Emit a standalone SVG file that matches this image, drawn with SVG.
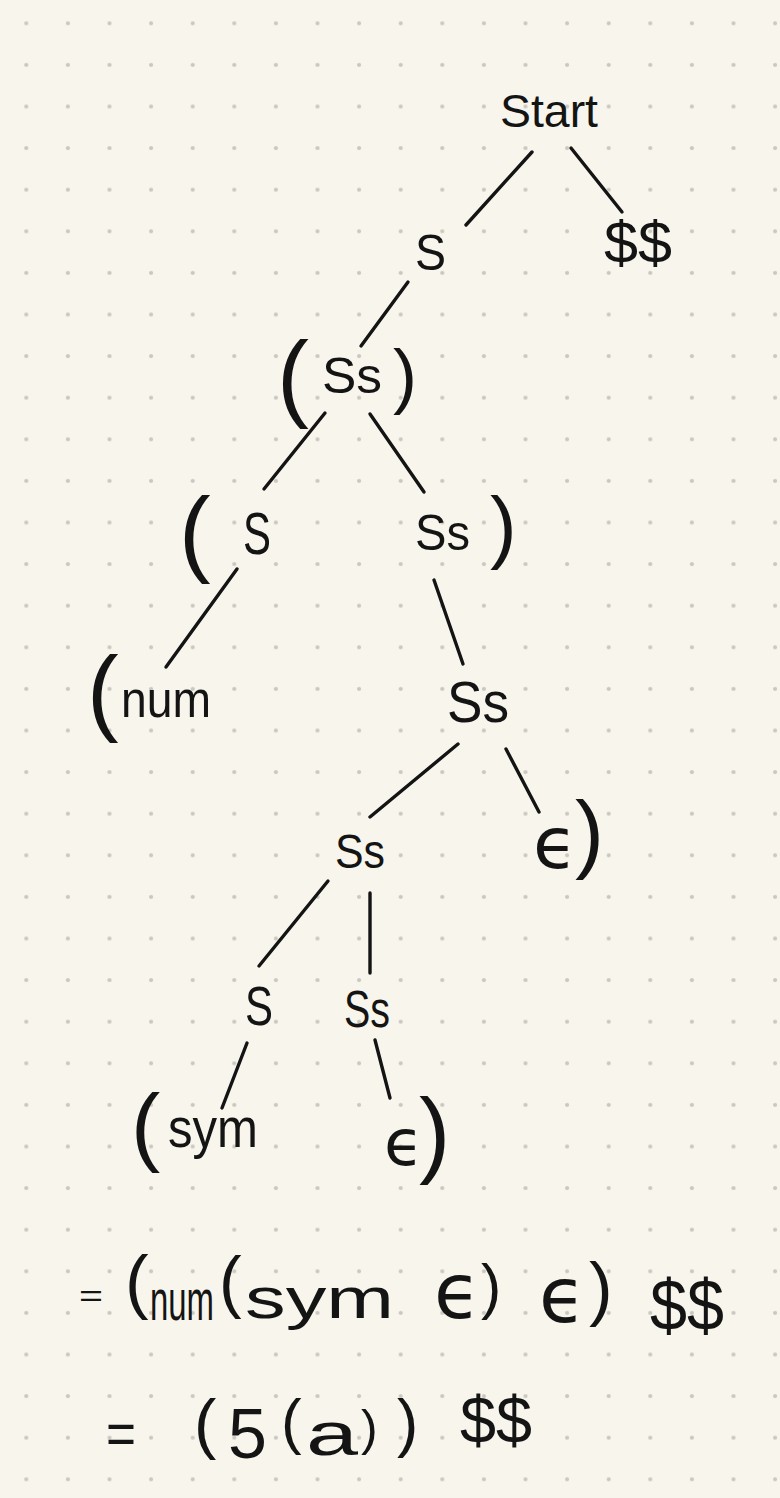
<svg xmlns="http://www.w3.org/2000/svg" width="780" height="1498" viewBox="0 0 780 1498">
<defs>
<pattern id="dots" patternUnits="userSpaceOnUse" x="5.5" y="2.5" width="41.6" height="41.6">
<circle cx="20.8" cy="20.8" r="2.1" fill="#c9c7c0"/>
</pattern>
<style>
.t{font-family:"Liberation Sans","DejaVu Sans",sans-serif;fill:#141414;}
.e{font-family:"DejaVu Sans","Liberation Sans",sans-serif;}
.edge{stroke:#141414;stroke-width:3.4;stroke-linecap:round;fill:none;}
</style>
</defs>
<rect width="780" height="1498" fill="#f7f5ec"/>
<rect width="780" height="1498" fill="url(#dots)"/>

<g id="connectors">
<line class="edge" x1="532" y1="152" x2="466" y2="225"/>
<line class="edge" x1="571" y1="148" x2="622" y2="212"/>
<line class="edge" x1="408" y1="282" x2="361" y2="346"/>
<line class="edge" x1="325" y1="413" x2="264" y2="489"/>
<line class="edge" x1="370" y1="414" x2="424" y2="492"/>
<line class="edge" x1="237" y1="569" x2="166" y2="667"/>
<line class="edge" x1="434" y1="580" x2="463" y2="664"/>
<line class="edge" x1="458" y1="744" x2="370" y2="817"/>
<line class="edge" x1="506" y1="749" x2="539" y2="812"/>
<line class="edge" x1="328" y1="881" x2="259" y2="966"/>
<line class="edge" x1="370" y1="893" x2="370" y2="973"/>
<line class="edge" x1="247" y1="1043" x2="222" y2="1108"/>
<line class="edge" x1="375" y1="1040" x2="390" y2="1098"/>
</g>

<g id="node-start"><text class="t" x="500" y="127" font-size="46" textLength="98" lengthAdjust="spacingAndGlyphs">Start</text></g>
<g id="node-S1"><text class="t" x="415" y="270" font-size="50" textLength="31" lengthAdjust="spacingAndGlyphs">S</text></g>
<g id="node-dollar"><text class="t" x="604" y="263" font-size="60" textLength="68" lengthAdjust="spacingAndGlyphs">$$</text></g>
<g id="node-paren-Ss"><text class="t"><tspan x="277" y="409" font-size="96">(</tspan><tspan x="322" y="393" font-size="50" textLength="60" lengthAdjust="spacingAndGlyphs">Ss</tspan><tspan x="393" y="400" font-size="72">)</tspan></text></g>
<g id="node-paren-S"><text class="t"><tspan x="179" y="564" font-size="95">(</tspan><tspan x="243" y="554" font-size="60" textLength="28" lengthAdjust="spacingAndGlyphs">S</tspan></text></g>
<g id="node-Ss-paren"><text class="t"><tspan x="415" y="550" font-size="50" textLength="55" lengthAdjust="spacingAndGlyphs">Ss</tspan><tspan x="490" y="553" font-size="80">)</tspan></text></g>
<g id="node-num"><text class="t"><tspan x="87" y="723" font-size="95">(</tspan><tspan x="121" y="717" font-size="52" textLength="90" lengthAdjust="spacingAndGlyphs">num</tspan></text></g>
<g id="node-Ss-mid"><text class="t" x="447" y="722" font-size="58" textLength="62" lengthAdjust="spacingAndGlyphs">Ss</text></g>
<g id="node-Ss-low"><text class="t" x="335" y="868" font-size="48" textLength="50" lengthAdjust="spacingAndGlyphs">Ss</text></g>
<g id="node-eps1"><text class="t"><tspan class="e" x="533" y="868" font-size="72">ϵ</tspan><tspan x="575" y="862" font-size="87">)</tspan></text></g>
<g id="node-S2"><text class="t" x="245" y="1025" font-size="56" textLength="28" lengthAdjust="spacingAndGlyphs">S</text></g>
<g id="node-Ss-last"><text class="t" x="344" y="1027" font-size="52" textLength="46" lengthAdjust="spacingAndGlyphs">Ss</text></g>
<g id="node-sym"><text class="t"><tspan x="131" y="1155" font-size="88">(</tspan><tspan x="168" y="1147" font-size="56" textLength="90" lengthAdjust="spacingAndGlyphs">sym</tspan></text></g>
<g id="node-eps2"><text class="t"><tspan class="e" x="384" y="1165" font-size="64">ϵ</tspan><tspan x="419" y="1165" font-size="94">)</tspan></text></g>

<g id="result-1"><text class="t"><tspan x="79" y="1306" font-size="30" textLength="24" lengthAdjust="spacingAndGlyphs">=</tspan><tspan x="125" y="1305" font-size="71">(</tspan><tspan x="150" y="1320" font-size="58" textLength="64" lengthAdjust="spacingAndGlyphs">num</tspan><tspan x="219" y="1305" font-size="68">(</tspan><tspan x="245" y="1318" font-size="58" textLength="149" lengthAdjust="spacingAndGlyphs">sym</tspan> <tspan class="e" x="434" y="1318" font-size="76">ϵ</tspan><tspan x="481" y="1307" font-size="61">)</tspan> <tspan class="e" x="539" y="1322" font-size="76">ϵ</tspan><tspan x="589" y="1312" font-size="71">)</tspan> <tspan x="650" y="1330" font-size="72" textLength="74" lengthAdjust="spacingAndGlyphs">$$</tspan></text></g>

<g id="result-2"><text class="t"><tspan x="106" y="1454" font-size="60" textLength="30" lengthAdjust="spacingAndGlyphs">=</tspan> <tspan x="194" y="1446" font-size="67">(</tspan><tspan x="228" y="1458" font-size="70">5</tspan><tspan x="281" y="1442" font-size="62">(</tspan><tspan x="306" y="1455" font-size="62" textLength="52" lengthAdjust="spacingAndGlyphs">a</tspan><tspan x="361" y="1445" font-size="50">)</tspan><tspan x="397" y="1445" font-size="64">)</tspan> <tspan x="460" y="1443" font-size="66" textLength="72" lengthAdjust="spacingAndGlyphs">$$</tspan></text></g>
</svg>
